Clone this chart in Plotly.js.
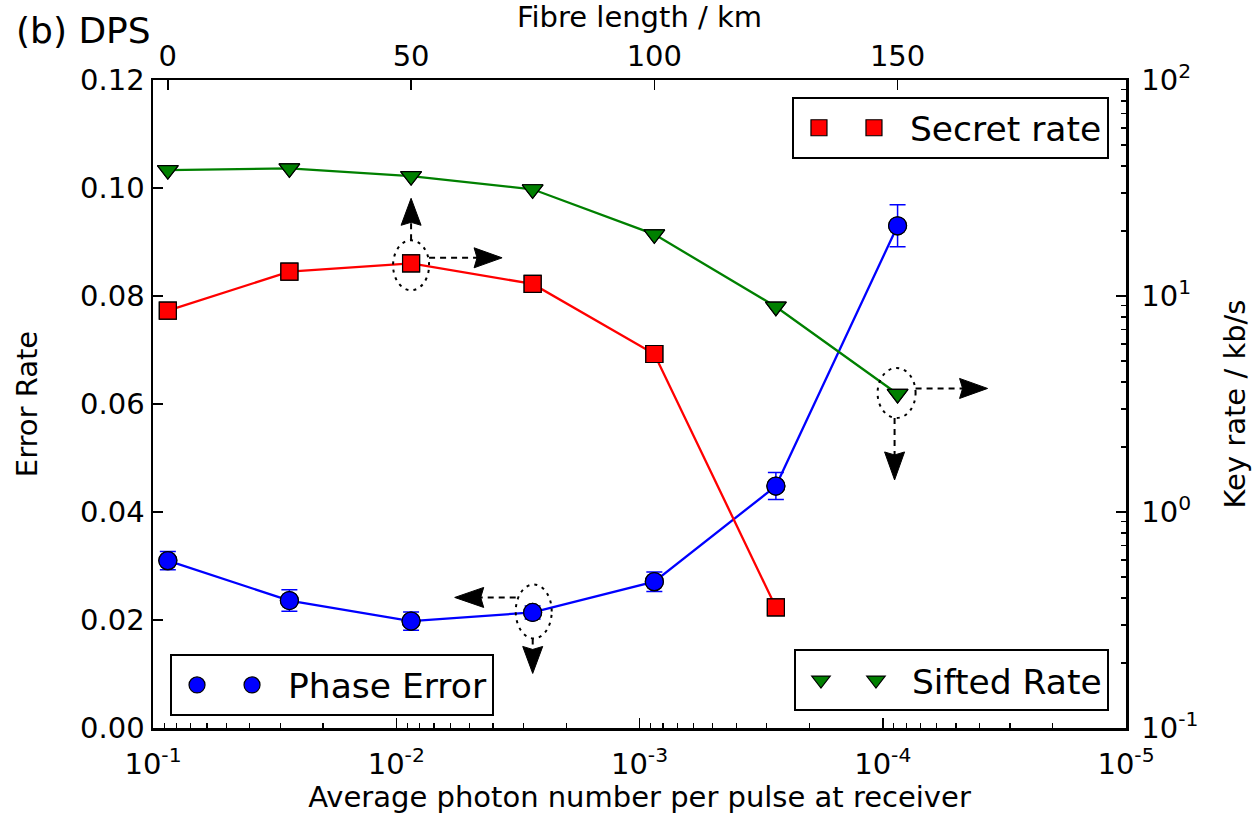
<!DOCTYPE html>
<html><head><meta charset="utf-8">
<script src="https://cdn.plot.ly/plotly-3.0.1.min.js"></script>
<style>html,body{margin:0;padding:0;background:#fff}#chart{width:1252px;height:814px}</style>
</head><body><div id="chart"></div>
<script>
// ---- data ----
const fibreLength   = [0, 25, 50, 75, 100, 125, 150];                       // km (top axis)
const photonNumber  = [0.0869, 0.0275, 0.00869, 0.00275, 0.000869, 0.000275, 0.0000869];
const phaseError    = [0.0310, 0.0236, 0.0198, 0.0214, 0.0271, 0.0448, 0.0930];
const phaseErrorBar = [0.0017, 0.0020, 0.0017, 0.0012, 0.0018, 0.0025, 0.0039];
const secretRate    = [8.55, 12.96, 14.17, 11.37, 5.39, 0.362];            // kb/s
const siftedRate    = [38.3, 39.0, 35.9, 31.2, 19.3, 8.92, 3.52];           // kb/s

const bottomTickVals = [1e-1, 1e-2, 1e-3, 1e-4, 1e-5];
const bottomTickText = ['10<sup>-1</sup>', '10<sup>-2</sup>', '10<sup>-3</sup>', '10<sup>-4</sup>', '10<sup>-5</sup>'];
const topTickVals    = [0, 50, 100, 150];
const leftTickVals   = [0, 0.02, 0.04, 0.06, 0.08, 0.10, 0.12];
const rightTickVals  = [0.1, 1, 10, 100];
const rightTickText  = ['10<sup>-1</sup>', '10<sup>0</sup>', '10<sup>1</sup>', '10<sup>2</sup>'];

const legendNames = {secret: 'Secret rate', phase: 'Phase Error', sifted: 'Sifted Rate'};

// ---- helpers ----
const FONT = 'DejaVu Sans, Liberation Sans, sans-serif';
function minorLog(lo, hi) { // minor tick positions 2..9 x 10^n
  const v = [];
  for (let e = lo; e < hi; e++) for (let m = 2; m <= 9; m++) v.push(m * Math.pow(10, e));
  return v;
}
// top axis range aligned with the bottom log axis (0.2 dB/km -> 50 km per decade)
const kmPerDecade = (fibreLength[2] - fibreLength[0]) / (Math.log10(photonNumber[0]) - Math.log10(photonNumber[2]));
const topLeft  = fibreLength[0] + kmPerDecade * (Math.log10(photonNumber[0]) - (-1));
const topRight = fibreLength[0] + kmPerDecade * (Math.log10(photonNumber[0]) - (-5));

const BLUE = '#0000ff', RED = '#ff0000', GREEN = '#008000';
const NB = '\u00a0';
const LW = 2.3;

const traces = [
  // phase error (left axis)
  {x: photonNumber, y: phaseError, mode: 'lines', line: {color: BLUE, width: LW}, showlegend: false, hoverinfo: 'skip'},
  {x: photonNumber, y: phaseError, mode: 'markers', name: '', legend: 'legend2',
   error_y: {type: 'data', array: phaseErrorBar, visible: true, color: BLUE, thickness: 1.5, width: 8},
   marker: {symbol: 'circle', size: 18, color: BLUE, line: {color: 'black', width: 1.2}}},
  {x: photonNumber, y: phaseError, mode: 'markers', name: NB + legendNames.phase, legend: 'legend2',
   marker: {symbol: 'circle', size: 18, color: BLUE, line: {color: 'black', width: 1.2}}},
  // secret rate (right axis)
  {x: photonNumber.slice(0, secretRate.length), y: secretRate, yaxis: 'y2', mode: 'lines', line: {color: RED, width: LW}, showlegend: false, hoverinfo: 'skip'},
  {x: photonNumber.slice(0, secretRate.length), y: secretRate, yaxis: 'y2', mode: 'markers', name: '', legend: 'legend',
   marker: {symbol: 'square', size: 17, color: RED, line: {color: 'black', width: 1.2}}},
  {x: photonNumber.slice(0, secretRate.length), y: secretRate, yaxis: 'y2', mode: 'markers', name: NB + legendNames.secret, legend: 'legend',
   marker: {symbol: 'square', size: 17, color: RED, line: {color: 'black', width: 1.2}}},
  // sifted rate (right axis)
  {x: photonNumber, y: siftedRate, yaxis: 'y2', mode: 'lines', line: {color: GREEN, width: LW}, showlegend: false, hoverinfo: 'skip'},
  {x: photonNumber, y: siftedRate, yaxis: 'y2', mode: 'markers', name: '', legend: 'legend3',
   marker: {symbol: 'triangle-down', size: 18, color: GREEN, line: {color: 'black', width: 1.2}}},
  {x: photonNumber, y: siftedRate, yaxis: 'y2', mode: 'markers', name: NB + legendNames.sifted, legend: 'legend3',
   marker: {symbol: 'triangle-down', size: 18, color: GREEN, line: {color: 'black', width: 1.2}}},
  // fibre length axis carrier (draws nothing)
  {x: fibreLength, y: phaseError, xaxis: 'x2', yaxis: 'y', mode: 'none', showlegend: false, hoverinfo: 'skip'}
];

// ---- dotted ellipses and dashed arrows around highlighted points (pixel offsets, y up) ----
const marks = [
  {xa: fibreLength[2], yref: 'y2', ya: secretRate[2], ell: [-18, 18, -27, 23],
   arrows: [{dir: 'up', pos: 0, from: 23, base: 41, tip: 65}, {dir: 'right', pos: 5.5, from: 18, base: 66, tip: 91}]},
  {xa: fibreLength[3], yref: 'y', ya: phaseError[3], ell: [-17, 19, -26, 28],
   arrows: [{dir: 'left', pos: 15, from: -17, base: -52, tip: -78}, {dir: 'down', pos: 0, from: -26, base: -37, tip: -61}]},
  {xa: fibreLength[6], yref: 'y2', ya: siftedRate[6], ell: [-20, 18, -24, 26],
   arrows: [{dir: 'right', pos: 5.5, from: 18, base: 65, tip: 90}, {dir: 'down', pos: -3, from: -24, base: -61, tip: -86}]}
];
function ellipsePath(x0, x1, y0, y1) {
  const cx = (x0 + x1) / 2, cy = (y0 + y1) / 2, rx = (x1 - x0) / 2, ry = (y1 - y0) / 2, k = 0.5523;
  const f = v => v.toFixed(2);
  return `M${f(cx + rx)},${f(cy)} ` +
    `C${f(cx + rx)},${f(cy + k * ry)} ${f(cx + k * rx)},${f(cy + ry)} ${f(cx)},${f(cy + ry)} ` +
    `C${f(cx - k * rx)},${f(cy + ry)} ${f(cx - rx)},${f(cy + k * ry)} ${f(cx - rx)},${f(cy)} ` +
    `C${f(cx - rx)},${f(cy - k * ry)} ${f(cx - k * rx)},${f(cy - ry)} ${f(cx)},${f(cy - ry)} ` +
    `C${f(cx + k * rx)},${f(cy - ry)} ${f(cx + rx)},${f(cy - k * ry)} ${f(cx + rx)},${f(cy)} Z`;
}
const shapes = [];
marks.forEach(m => {
  const common = {type: 'path', xref: 'x2', yref: m.yref, xsizemode: 'pixel', ysizemode: 'pixel',
                  xanchor: m.xa, yanchor: m.ya, layer: 'above'};
  shapes.push(Object.assign({path: ellipsePath(m.ell[0], m.ell[1], m.ell[2], m.ell[3]),
    line: {color: 'black', width: 2, dash: '3px,5px'}, fillcolor: 'rgba(0,0,0,0)'}, common));
  m.arrows.forEach(a => {
    const hw = 10, notch = 3;
    let stem, head;
    if (a.dir === 'up' || a.dir === 'down') {
      const s = a.dir === 'up' ? 1 : -1;
      stem = `M${a.pos},${a.from} L${a.pos},${a.base + s * 2}`;
      head = `M${a.pos - hw},${a.base - s * notch} L${a.pos},${a.tip} L${a.pos + hw},${a.base - s * notch} L${a.pos},${a.base} Z`;
    } else {
      const s = a.dir === 'right' ? 1 : -1;
      stem = `M${a.from},${a.pos} L${a.base + s * 2},${a.pos}`;
      head = `M${a.base - s * notch},${a.pos - hw} L${a.tip},${a.pos} L${a.base - s * notch},${a.pos + hw} L${a.base},${a.pos} Z`;
    }
    shapes.push(Object.assign({path: stem, line: {color: 'black', width: 2, dash: '6px,5px'}, fillcolor: 'rgba(0,0,0,0)'}, common));
    shapes.push(Object.assign({path: head, fillcolor: 'black', line: {color: 'black', width: 1}}, common));
  });
});

const axisCommon = {
  ticks: 'inside', ticklen: 10, tickwidth: 1.5, tickcolor: 'black',
  showline: true, linewidth: 2.5, linecolor: 'black', showgrid: false, zeroline: false,
  tickfont: {family: FONT, size: 29, color: 'black'}
};
const legendCommon = {orientation: 'h', bgcolor: 'white', bordercolor: 'black', borderwidth: 2, itemwidth: 40,
  font: {family: FONT, size: 34.5, color: 'black'}, xref: 'paper', yref: 'paper'};

const layout = {
  width: 1252, height: 814,
  margin: {l: 153, r: 126, t: 80, b: 86},
  paper_bgcolor: 'white', plot_bgcolor: 'white',
  font: {family: FONT, size: 29, color: 'black'},
  showlegend: true,
  xaxis: Object.assign({}, axisCommon, {
    type: 'log', range: [-1, -5], tickmode: 'array', tickvals: bottomTickVals, ticktext: bottomTickText,
    ticklabelstandoff: 9,
    minor: {ticks: 'inside', ticklen: 5, tickwidth: 1.2, tickcolor: 'black', tickmode: 'array', tickvals: minorLog(-5, -1), showgrid: false},
    title: {text: 'Average photon number per pulse at receiver', font: {family: FONT, size: 29}, standoff: 2}
  }),
  xaxis2: Object.assign({}, axisCommon, {
    overlaying: 'x', side: 'top', anchor: 'y', range: [topLeft, topRight],
    tickmode: 'array', tickvals: topTickVals,
    title: {text: 'Fibre length / km', font: {family: FONT, size: 29}, standoff: 6}
  }),
  yaxis: Object.assign({}, axisCommon, {
    range: [0, 0.12], tickmode: 'array', tickvals: leftTickVals, tickformat: '.2f',
    title: {text: 'Error Rate', font: {family: FONT, size: 29}, standoff: 34}
  }),
  yaxis2: Object.assign({}, axisCommon, {
    type: 'log', range: [-1, 2], overlaying: 'y', side: 'right', anchor: 'x',
    tickmode: 'array', tickvals: rightTickVals, ticktext: rightTickText, ticklabelstandoff: 7,
    minor: {ticks: 'inside', ticklen: 5, tickwidth: 1.2, tickcolor: 'black', tickmode: 'array', tickvals: minorLog(-1, 2), showgrid: false},
    title: {text: 'Key rate / kb/s', font: {family: FONT, size: 29}, standoff: 30}
  }),
  legend:  Object.assign({}, legendCommon, {x: 0.9825, xanchor: 'right', y: 0.974, yanchor: 'top'}),
  legend2: Object.assign({}, legendCommon, {x: 0.0175, xanchor: 'left', y: 0.0185, yanchor: 'bottom'}),
  legend3: Object.assign({}, legendCommon, {x: 0.9825, xanchor: 'right', y: 0.026, yanchor: 'bottom'}),
  shapes: shapes,
  annotations: [
    {text: '(b) DPS', xref: 'paper', yref: 'paper', x: -0.143, y: 1.077, xanchor: 'left', yanchor: 'middle',
     showarrow: false, font: {family: FONT, size: 36, color: 'black'}}
  ]
};

Plotly.newPlot('chart', traces, layout, {displayModeBar: false, staticPlot: true});
</script>
</body></html>
